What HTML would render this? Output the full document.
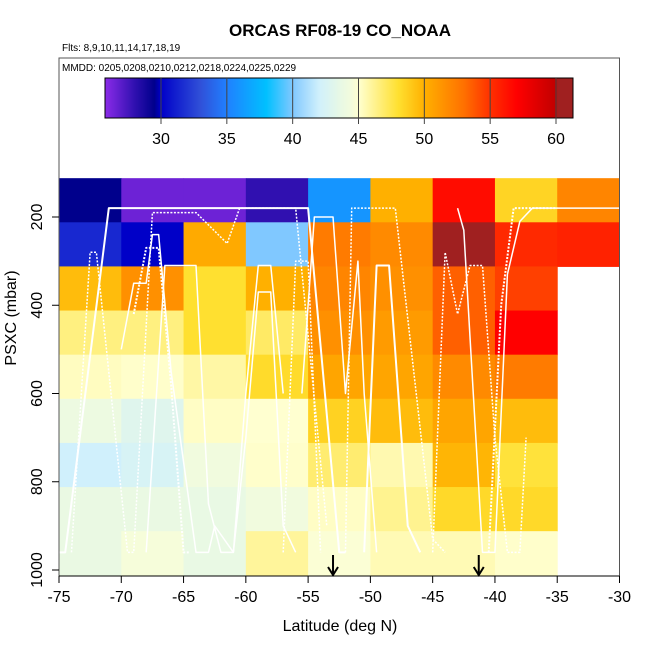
<!DOCTYPE html>
<html><head><meta charset="utf-8">
<style>
html,body{margin:0;padding:0;background:#fff;}
svg{display:block;font-family:"Liberation Sans",Arial,sans-serif;}
</style></head>
<body>
<svg id="chart" width="650" height="650" viewBox="0 0 650 650">
<text x="340" y="36" text-anchor="middle" font-size="17" font-weight="bold">ORCAS RF08-19 CO_NOAA</text>
<text x="62" y="51" font-size="10">Flts: 8,9,10,11,14,17,18,19</text>
<text x="62" y="71" font-size="10">MMDD: 0205,0208,0210,0212,0218,0224,0225,0229</text>
<g id="cells"></g>
<g id="tracks"></g>
<g id="cbar"></g>
<rect x="59" y="58" width="560.5" height="518" fill="none" stroke="#555" stroke-width="1"/>
<g id="axes"></g>
<text x="340" y="631" text-anchor="middle" font-size="16">Latitude (deg N)</text>
<text transform="translate(16,318) rotate(-90)" text-anchor="middle" font-size="16">PSXC (mbar)</text>
</svg>
<script>
const latEdges = [-75,-70,-65,-60,-55,-50,-45,-40,-35,-30];
const presEdges = [112,212,312,412,512,612,712,812,912,1012];
const row160 = [29.5,26.5,26.5,28,36,50,56.5,48.5,52];
const row260 = [31.5,30,50.3,40,52.5,51.8,61,55.3,55.6];
const row360 = [49.5,51.5,48,50,52,51.5,53.5,54.5,null];
const row460 = [46.5,46.5,48,47,51.5,51,53.5,57,null];
const row560 = [45.3,45.1,45.8,48.2,50.5,50.5,51.8,52.5,null];
const row660 = [44,43,45.2,45,48.6,49.5,50.5,49.5,null];
const row760 = [42,42.5,44.3,45.1,46.8,45.6,49.8,47.8,null];
const row860 = [43.8,43.8,43.7,44.3,45.2,46.2,48.3,48.3,null];
const row960 = [43.8,44.6,43.7,46,44.8,45.5,45.5,45.1,null];
const grid = [row160,row260,row360,row460,row560,row660,row760,row860,row960];
const xTicks = [-75,-70,-65,-60,-55,-50,-45,-40,-35,-30];
const yTicks = [200,400,600,800,1000];
const cbTicks = [30,35,40,45,50,55,60];
const arrowLats = [-53,-41.3];
const cStops = [[25.8,"#8a2be8"],[28,"#3010b0"],[29.5,"#00008c"],[30,"#0000c8"],[33,"#3050d8"],[35,"#2080ff"],[38,"#00c0ff"],[40,"#80c8ff"],[42,"#d0f0fc"],[43.5,"#e6f8e6"],[44.5,"#f4fcdc"],[45,"#ffffd0"],[48,"#ffe030"],[50,"#ffb000"],[53,"#ff7000"],[55,"#ff3000"],[57,"#ff0000"],[60,"#c00000"],[60.1,"#a02020"],[61.5,"#a02020"]];
// flight tracks [lat, pressure]
const track1 = [[-75,960],[-74.5,960],[-71,180],[-55,180],[-52.5,960],[-52,960]];
const track2 = [[-74,960],[-72.5,280],[-72,280],[-69.5,960],[-69,960],[-67.5,190],[-64,190],[-61.5,260],[-60.5,180],[-56,180],[-53.5,900]];
const track3 = [[-70,500],[-69,350],[-68,350],[-67.5,240],[-67,240],[-66,550],[-64,960],[-63,960],[-62.5,900],[-61,960],[-60,700],[-59,370],[-58,370],[-57,900],[-56,960]];
const track4 = [[-69,420],[-68,270],[-67,270],[-66,580],[-65,960],[-64.5,960]];
const track5 = [[-68,960],[-66.5,310],[-64,310],[-63,850],[-62,960],[-61,960],[-60,600],[-59,310],[-58,310],[-57,600]];
const track6 = [[-52,960],[-51.5,180],[-48,180],[-45,930],[-44,960]];
const track7 = [[-50.5,960],[-49.5,310],[-48.5,310],[-47,900],[-46,960]];
const track8 = [[-45,960],[-44,280],[-43,420],[-42,310],[-41,310],[-40,700],[-39,960],[-38,960],[-37.5,700]];
const track9 = [[-43,180],[-42.5,230],[-41,960],[-40,960],[-39,330],[-38,210],[-37,180],[-30,180]];
const track10 = [[-40.5,960],[-39.5,400],[-38.5,180],[-35,180]];
const track11 = [[-55.5,600],[-54.5,200],[-53,200],[-52,600],[-51,300],[-50.5,600],[-49.5,960]];
const track12 = [[-57,960],[-56,300],[-55,300],[-54,960]];
const tracks = [track1,track2,track3,track4,track5,track6,track7,track8,track9,track10,track11,track12];

const NS="http://www.w3.org/2000/svg";
const X0=59,X1=619.5,LAT0=-75,LAT1=-30;
function xs(lat){return X0+(lat-LAT0)*(X1-X0)/(LAT1-LAT0);}
function ys(p){return 217+(p-200)*(570-217)/800;}
function cbx(v){return 161+(v-30)*(556-161)/30;}
function hex(c){return [1,3,5].map(i=>parseInt(c.substr(i,2),16));}
function color(v){
  if(v<=cStops[0][0])return cStops[0][1];
  for(let i=1;i<cStops.length;i++){
    if(v<=cStops[i][0]){
      const a=hex(cStops[i-1][1]),b=hex(cStops[i][1]);
      const t=(v-cStops[i-1][0])/(cStops[i][0]-cStops[i-1][0]);
      return "rgb("+a.map((x,k)=>Math.round(x+(b[k]-x)*t)).join(",")+")";
    }
  }
  return cStops[cStops.length-1][1];
}
function mk(tag,attrs,parent){const e=document.createElementNS(NS,tag);for(const k in attrs)e.setAttribute(k,attrs[k]);parent.appendChild(e);return e;}

const cells=document.getElementById("cells");
grid.forEach((row,r)=>row.forEach((v,c)=>{
  if(v===null)return;
  const x=xs(latEdges[c]),y=ys(presEdges[r]);
  const e=mk("rect",{x:x,y:y,width:xs(latEdges[c+1])-x+0.5,height:ys(presEdges[r+1])-y+0.5,fill:color(v)},cells);
  
  
}));

const tg=document.getElementById("tracks");
tracks.forEach((t,i)=>{
  const e=mk("polyline",{points:t.map(p=>xs(p[0])+","+ys(p[1])).join(" "),fill:"none",stroke:"#fff","stroke-width":i%3==0?2:1.5,"stroke-dasharray":i%2==0?"none":"2,1.5","stroke-linejoin":"round"},tg);
  
  
});

const cb=document.getElementById("cbar");
for(let px=105;px<573;px++){
  const v=25.8+(px-105)*(61.3-25.8)/468;
  mk("rect",{x:px,y:78,width:1.2,height:40,fill:color(v)},cb);
}
mk("rect",{x:105,y:78,width:468,height:40,fill:"none",stroke:"#000","stroke-width":1},cb);
cbTicks.forEach(t=>{
  const x=cbx(t);
  mk("line",{x1:x,y1:78,x2:x,y2:124,stroke:"#444","stroke-width":1},cb);
  const e=mk("text",{x:x,y:144,"text-anchor":"middle","font-size":16},cb);
  e.textContent=t;
  
  
});

const ax=document.getElementById("axes");
mk("line",{x1:X0,y1:576,x2:X1,y2:576,stroke:"#000","stroke-width":1},ax);
xTicks.forEach(t=>{
  const x=xs(t);
  mk("line",{x1:x,y1:576,x2:x,y2:583,stroke:"#000"},ax);
  const e=mk("text",{x:x,y:602,"text-anchor":"middle","font-size":16},ax);
  e.textContent=t;
  
  
});
yTicks.forEach(t=>{
  const y=ys(t);
  mk("line",{x1:52,y1:y,x2:59,y2:y,stroke:"#000"},ax);
  const e=mk("text",{transform:"translate(42,"+y+") rotate(-90)","text-anchor":"middle","font-size":16},ax);
  e.textContent=t;
  
  
});
arrowLats.forEach(l=>{
  const x=xs(l);
  const g=mk("g",{},ax);
  
  
  mk("line",{x1:x,y1:555,x2:x,y2:575,stroke:"#000","stroke-width":2},g);
  mk("polyline",{points:(x-5)+",567 "+x+",575 "+(x+5)+",567",fill:"none",stroke:"#000","stroke-width":2},g);
});
</script>
</body></html>
